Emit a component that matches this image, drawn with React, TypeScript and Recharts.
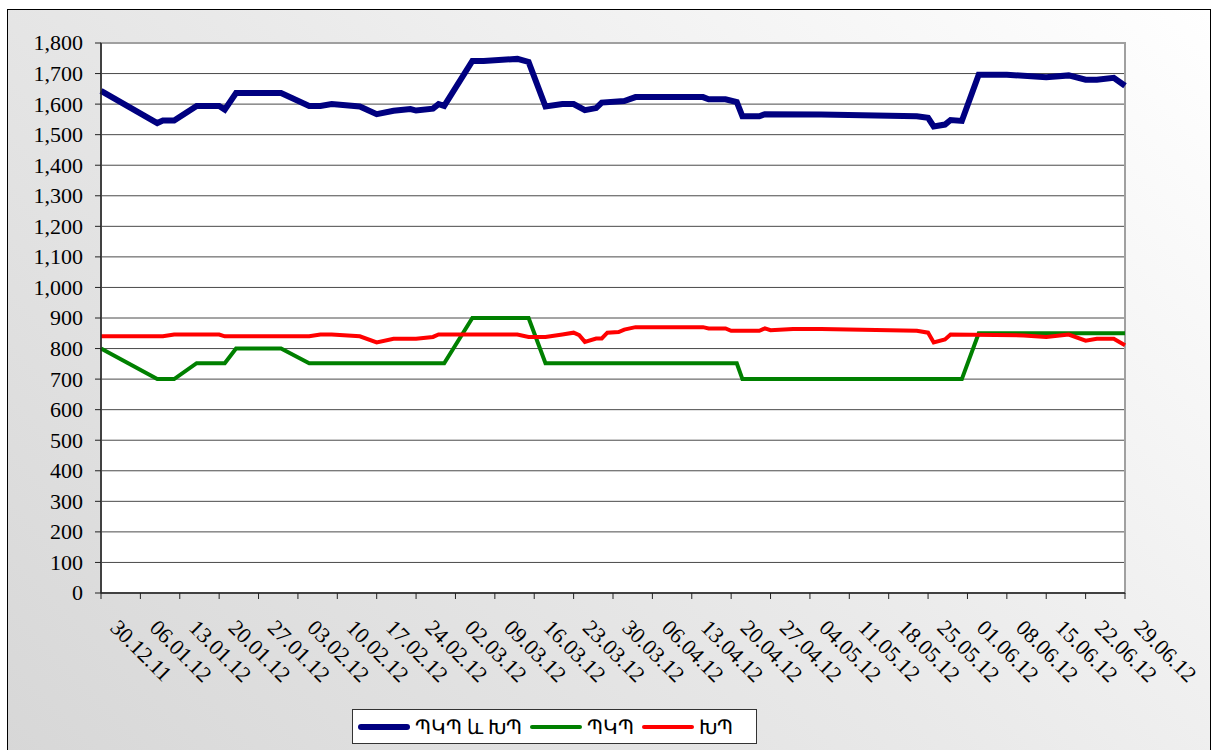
import { LineChart, Line, XAxis, YAxis, CartesianGrid, ReferenceArea } from 'recharts';

const tickDays = [0, 7, 14, 21, 28, 35, 42, 49, 56, 63, 70, 77, 84, 91, 98, 105, 112, 119, 126, 133, 140, 147, 154, 161, 168, 175, 182];
const tickLabels = [
  '30.12.11', '06.01.12', '13.01.12', '20.01.12', '27.01.12', '03.02.12', '10.02.12', '17.02.12', '24.02.12',
  '02.03.12', '09.03.12', '16.03.12', '23.03.12', '30.03.12', '06.04.12', '13.04.12', '20.04.12', '27.04.12',
  '04.05.12', '11.05.12', '18.05.12', '25.05.12', '01.06.12', '08.06.12', '15.06.12', '22.06.12', '29.06.12',
];
const yTicks = [0, 100, 200, 300, 400, 500, 600, 700, 800, 900, 1000, 1100, 1200, 1300, 1400, 1500, 1600, 1700, 1800];

// ՊԿՊ և ԽՊ (total)
const totalDays = [0, 10, 11, 13, 17, 21, 22, 24, 32, 37, 39, 41, 46, 49, 52, 55, 56, 59, 60, 61, 66, 68, 74, 76, 79, 82, 84, 86, 88, 89, 93, 95, 107, 108, 111, 113, 114, 117, 118, 128, 145, 147, 148, 150, 151, 153, 156, 161, 168, 172, 175, 177, 180, 182];
const totalValues = [1643, 1538, 1546, 1546, 1594, 1594, 1582, 1636, 1636, 1594, 1594, 1600, 1592, 1567, 1578, 1584, 1579, 1585, 1600, 1594, 1741, 1741, 1748, 1738, 1592, 1600, 1600, 1580, 1587, 1605, 1610, 1623, 1623, 1616, 1616, 1607, 1560, 1560, 1567, 1566, 1560, 1555, 1527, 1533, 1548, 1545, 1696, 1696, 1688, 1694, 1680, 1680, 1686, 1660];

// ՊԿՊ
const pkpDays = [0, 10, 13, 17, 22, 24, 32, 37, 61, 66, 76, 79, 113, 114, 153, 156, 182];
const pkpValues = [800, 700, 700, 752, 752, 800, 800, 752, 752, 900, 900, 752, 752, 700, 700, 850, 850];

// ԽՊ
const khpDays = [0, 11, 13, 21, 22, 37, 39, 41, 46, 49, 52, 56, 59, 60, 74, 76, 79, 82, 84, 85, 86, 88, 89, 90, 92, 93, 95, 107, 108, 111, 112, 117, 118, 119, 123, 128, 145, 147, 148, 150, 151, 164, 168, 172, 175, 177, 180, 182];
const khpValues = [840, 840, 846, 846, 840, 840, 846, 846, 840, 820, 832, 832, 838, 846, 846, 838, 838, 846, 852, 844, 822, 833, 833, 852, 854, 862, 870, 870, 866, 866, 858, 858, 866, 860, 864, 864, 858, 852, 820, 830, 846, 843, 838, 846, 826, 832, 832, 811];

const toPoints = (days: number[], values: number[]) => days.map((d, i) => ({ day: d, value: values[i] }));

const totalData = toPoints(totalDays, totalValues);
const pkpData = toPoints(pkpDays, pkpValues);
const khpData = toPoints(khpDays, khpValues);

const serif = 'Liberation Serif';

function DateTick({ x, y, payload }: any) {
  const label = tickLabels[tickDays.indexOf(payload.value)];
  const ax = x + 8;
  const ay = y + 30;
  return (
    <text x={ax} y={ay} transform={`rotate(45 ${ax} ${ay})`} textAnchor="start" fontFamily={serif} fontSize={22} fill="#000">
      {label}
    </text>
  );
}

function ValueTick({ x, y, payload }: any) {
  return (
    <text x={x} y={y} dy="0.34em" textAnchor="end" fontFamily={serif} fontSize={22} fill="#000">
      {Number(payload.value).toLocaleString('en-US')}
    </text>
  );
}

const legendItems = [
  { label: 'ՊԿՊ և ԽՊ', color: '#000080', width: 6 },
  { label: 'ՊԿՊ', color: '#008000', width: 4 },
  { label: 'ԽՊ', color: '#ff0000', width: 4 },
];

export default function App() {
  return (
    <div style={{ position: 'absolute', left: 0, top: 0, width: 1211, height: 750, overflow: 'hidden', background: '#fff' }}>
      <div
        style={{
          position: 'absolute', left: 7, top: 9, width: 1202, height: 800,
          border: '1px solid #000',
          background: 'linear-gradient(45deg, #d6d6d6 0%, #e9e9e9 50%, #ffffff 100%)',
        }}
      />
      <div style={{ position: 'absolute', left: 0, top: 0 }}>
        <LineChart width={1211} height={750} margin={{ top: 43, right: 86, bottom: 57, left: 41 }}>
          <CartesianGrid vertical={false} stroke="#4a4a4a" fill="#ffffff" horizontalValues={yTicks} />
          <ReferenceArea x1={0} x2={182} y1={0} y2={1800} fill="none" stroke="#a0a0a0" strokeWidth={2} />
          <XAxis
            type="number"
            dataKey="day"
            domain={[0, 182]}
            ticks={tickDays}
            interval={0}
            height={100}
            tickSize={6}
            tickMargin={0}
            tick={<DateTick />}
            axisLine={{ stroke: '#222', strokeWidth: 1.5 }}
            tickLine={{ stroke: '#222' }}
          />
          <YAxis
            domain={[0, 1800]}
            ticks={yTicks}
            interval={0}
            width={60}
            tickSize={6}
            tickMargin={12}
            tick={<ValueTick />}
            axisLine={{ stroke: '#222', strokeWidth: 1.5 }}
            tickLine={{ stroke: '#222' }}
          />
          <Line data={pkpData} dataKey="value" type="linear" stroke="#008000" strokeWidth={4} dot={false} isAnimationActive={false} />
          <Line data={khpData} dataKey="value" type="linear" stroke="#ff0000" strokeWidth={4} dot={false} isAnimationActive={false} />
          <Line data={totalData} dataKey="value" type="linear" stroke="#000080" strokeWidth={6} dot={false} isAnimationActive={false} />
        </LineChart>
      </div>
      <div
        style={{
          position: 'absolute', left: 352, top: 709, width: 405, height: 35,
          border: '1px solid #333', background: '#fff',
          display: 'flex', alignItems: 'center', paddingLeft: 5, boxSizing: 'border-box',
          fontFamily: 'serif', fontSize: 20, color: '#000',
        }}
      >
        {legendItems.map((item) => (
          <div key={item.label} style={{ display: 'flex', alignItems: 'center', marginRight: 8 }}>
            <div style={{ width: 52, height: item.width, background: item.color, borderRadius: 3, marginRight: 5 }} />
            <span style={{ whiteSpace: 'nowrap' }}>{item.label}</span>
          </div>
        ))}
      </div>
    </div>
  );
}
